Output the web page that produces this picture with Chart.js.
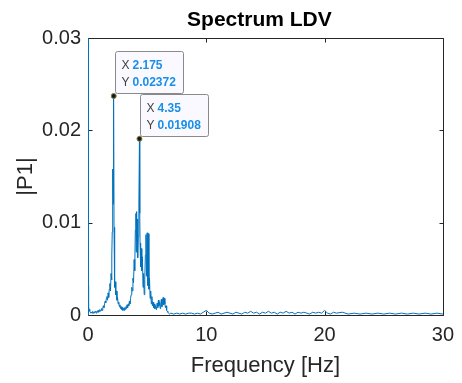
<!DOCTYPE html>
<html lang="en">
<head>
    <meta charset="UTF-8">
    <title>Spectrum LDV</title>
    <script src="https://cdn.jsdelivr.net/npm/chart.js"></script>
    <style>
        html, body { margin: 0; padding: 0; background: #fff; }
        #wrap { width: 462px; height: 383px; }
    </style>
</head>
<body>
<div id="wrap"><canvas id="spectrum"></canvas></div>
<script>
    // single-sided amplitude spectrum
    const freq = [
        0, 0.025, 0.05, 0.075, 0.1, 0.15, 0.2, 0.25, 0.3, 0.35,
        0.4, 0.45, 0.5, 0.55, 0.6, 0.65, 0.7, 0.75, 0.8, 0.85,
        0.9, 0.95, 1.0, 1.05, 1.1, 1.15, 1.2, 1.25, 1.3, 1.35,
        1.4, 1.45, 1.5, 1.55, 1.6, 1.65, 1.7, 1.75, 1.8, 1.85,
        1.9, 1.95, 2.0, 2.025, 2.05, 2.075, 2.1, 2.125, 2.15, 2.175,
        2.2, 2.225, 2.25, 2.275, 2.3, 2.35, 2.4, 2.45, 2.5, 2.55,
        2.6, 2.65, 2.7, 2.75, 2.8, 2.85, 2.9, 2.95, 3.0, 3.05,
        3.1, 3.15, 3.2, 3.25, 3.3, 3.35, 3.4, 3.45, 3.5, 3.55,
        3.6, 3.65, 3.7, 3.75, 3.8, 3.85, 3.9, 3.95, 4.0, 4.05,
        4.075, 4.1, 4.125, 4.15, 4.2, 4.25, 4.3, 4.35, 4.375, 4.4,
        4.45, 4.5, 4.55, 4.6, 4.65, 4.7, 4.75, 4.8, 4.85, 4.9,
        4.95, 5.0, 5.05, 5.1, 5.15, 5.2, 5.25, 5.3, 5.35, 5.4,
        5.45, 5.5, 5.55, 5.6, 5.65, 5.7, 5.75, 5.8, 5.85, 5.9,
        5.95, 6.0, 6.05, 6.1, 6.15, 6.2, 6.25, 6.3, 6.35, 6.4,
        6.45, 6.5, 6.55, 6.6, 6.65, 6.7, 6.75, 6.8, 6.9, 7.0,
        7.25, 7.5, 7.75, 8.0, 8.25, 8.5, 8.75, 9.0, 9.25, 9.5,
        9.75, 10, 10.25, 10.5, 10.75, 11, 11.25, 11.5, 11.75, 12,
        12.25, 12.5, 12.75, 13, 13.25, 13.5, 13.75, 14, 14.25, 14.5,
        14.75, 15, 15.25, 15.5, 15.75, 16, 16.25, 16.5, 16.75, 17,
        17.25, 17.5, 17.75, 18, 18.25, 18.5, 18.75, 19, 19.25, 19.5,
        19.75, 20, 20.25, 20.5, 20.75, 21, 21.5, 22, 22.5, 23,
        23.5, 24, 24.5, 25, 25.5, 26, 26.5, 27, 27.5, 28,
        28.5, 29, 29.5, 30
    ];
    const p1 = [
        0.0032, 0.0024, 0.0015, 0.0009, 0.0006, 0.0004, 0.0003, 0.0002, 0.0003, 0.0002,
        0.0004, 0.0002, 0.0003, 0.0002, 0.0004, 0.0003, 0.0002, 0.0004, 0.0003, 0.0005,
        0.0003, 0.0004, 0.0006, 0.0004, 0.0005, 0.0007, 0.0005, 0.0008, 0.0010, 0.0008,
        0.0012, 0.0015, 0.0013, 0.0018, 0.0020, 0.0016, 0.0024, 0.0019, 0.0028, 0.0034,
        0.0026, 0.0045, 0.0038, 0.0065, 0.0090, 0.0150, 0.0158, 0.0120, 0.0155, 0.02372,
        0.0095, 0.0040, 0.0052, 0.0030, 0.0036, 0.0022, 0.0026, 0.0016, 0.0019, 0.0012,
        0.0014, 0.0009, 0.0011, 0.0007, 0.0009, 0.0006, 0.0008, 0.0005, 0.0007, 0.0005,
        0.0008, 0.0006, 0.0009, 0.0007, 0.0011, 0.0008, 0.0012, 0.0010, 0.0015, 0.0012,
        0.0018, 0.0022, 0.0030, 0.0026, 0.0040, 0.0035, 0.0060, 0.0048, 0.0092, 0.0110,
        0.0068, 0.0112, 0.0080, 0.0104, 0.0062, 0.0085, 0.0120, 0.01908, 0.0110, 0.0078,
        0.0052, 0.0072, 0.0048, 0.0063, 0.0030, 0.0045, 0.0022, 0.0038, 0.0065, 0.0087,
        0.0042, 0.0089, 0.0032, 0.0088, 0.0028, 0.0040, 0.0018, 0.0026, 0.0012, 0.0020,
        0.0010, 0.0014, 0.0008, 0.0012, 0.0007, 0.0010, 0.0006, 0.0009, 0.0013, 0.0008,
        0.0016, 0.0010, 0.0014, 0.0007, 0.0012, 0.0017, 0.0009, 0.0015, 0.0019, 0.0011,
        0.0018, 0.0012, 0.0008, 0.0010, 0.0005, 0.0004, 0.0003, 0.0002, 0.0001, 0.0002,
        0.0001, 0.0002, 0.0001, 0.0002, 0.0001, 0.0002, 0.0002, 0.0001, 0.0002, 0.0001,
        0.0003, 0.0005, 0.0002, 0.0001, 0.0002, 0.0003, 0.0001, 0.0002, 0.0003, 0.0002,
        0.0001, 0.0003, 0.0002, 0.0001, 0.0003, 0.0002, 0.0004, 0.0002, 0.0003, 0.0001,
        0.0003, 0.0002, 0.0004, 0.0002, 0.0003, 0.0001, 0.0003, 0.0002, 0.0004, 0.0002,
        0.0003, 0.0001, 0.0003, 0.0002, 0.0003, 0.0002, 0.0001, 0.0003, 0.0002, 0.0003,
        0.0002, 0.0005, 0.0002, 0.0001, 0.0003, 0.0002, 0.0003, 0.0001, 0.0002, 0.0001,
        0.0002, 0.0001, 0.0002, 0.0001, 0.0002, 0.0001, 0.0002, 0.0001, 0.0002, 0.0001,
        0.0002, 0.0001, 0.0002, 0.0001
    ];
    const xTicks = [0, 10, 20, 30];
    const yTicks = [0, 0.01, 0.02, 0.03];
    // data tips
    const tipX = [2.175, 4.35];
    const tipY = [0.02372, 0.01908];

    const FONT = "'Liberation Sans', Arial, sans-serif";
    const AXIS = '#262626';
    const LINE = '#0072BD';

    // MATLAB style box, inward ticks, title and data tips
    const matlabAxes = {
        id: 'matlabAxes',
        afterDraw(chart) {
            const ctx = chart.ctx;
            const a = chart.chartArea;
            const xs = chart.scales.x, ys = chart.scales.y;
            const L = Math.round(a.left) + 0.5, R = Math.round(a.right) + 0.5;
            const T = Math.round(a.top) + 0.5, B = Math.round(a.bottom) + 0.5;
            ctx.save();
            ctx.lineWidth = 1;
            ctx.strokeStyle = AXIS;
            ctx.beginPath();
            ctx.moveTo(L, B); ctx.lineTo(R, B); ctx.lineTo(R, T); ctx.lineTo(L, T);
            xTicks.forEach(v => {
                const x = Math.round(xs.getPixelForValue(v)) + 0.5;
                ctx.moveTo(x, B); ctx.lineTo(x, B - 4);
                ctx.moveTo(x, T); ctx.lineTo(x, T + 4);
            });
            yTicks.forEach(v => {
                const y = Math.round(ys.getPixelForValue(v)) + 0.5;
                ctx.moveTo(L, y); ctx.lineTo(L + 4, y);
                ctx.moveTo(R, y); ctx.lineTo(R - 4, y);
            });
            ctx.stroke();
            ctx.strokeStyle = LINE;
            ctx.beginPath();
            ctx.moveTo(L, B); ctx.lineTo(L, T);
            ctx.stroke();

            // title
            ctx.fillStyle = '#000';
            ctx.font = 'bold 21px ' + FONT;
            ctx.textAlign = 'center';
            ctx.textBaseline = 'middle';
            ctx.fillText('Spectrum LDV', (a.left + a.right) / 2 - 6, 20);

            // data tips
            tipX.forEach((fx, i) => {
                const px = xs.getPixelForValue(fx);
                const py = ys.getPixelForValue(tipY[i]);
                const w = 68, h = 42;
                const bx = Math.round(px) + 1.5, by = Math.round(py) - 2.5 - h;
                ctx.fillStyle = '#f9f9ff';
                ctx.strokeStyle = '#8a8a8a';
                ctx.beginPath();
                ctx.roundRect(bx, by, w, h, 2);
                ctx.fill();
                ctx.stroke();
                ctx.textAlign = 'left';
                ctx.textBaseline = 'middle';
                ctx.font = '12px ' + FONT;
                ctx.fillStyle = '#404040';
                ctx.fillText('X', bx + 6, by + 14);
                ctx.fillText('Y', bx + 6, by + 31);
                ctx.font = 'bold 12px ' + FONT;
                ctx.fillStyle = '#1a8fe8';
                ctx.fillText(String(fx), bx + 17, by + 14);
                ctx.fillText(String(tipY[i]), bx + 17, by + 31);
                ctx.fillStyle = '#1a1a1a';
                ctx.strokeStyle = '#8a7f3a';
                ctx.beginPath();
                ctx.arc(px, py, 2.5, 0, Math.PI * 2);
                ctx.fill();
                ctx.stroke();
            });
            ctx.restore();
        }
    };

    const ctx = document.getElementById('spectrum').getContext('2d');
    new Chart(ctx, {
        type: 'line',
        data: {
            datasets: [{
                data: freq.map((f, i) => ({ x: f, y: p1[i] })),
                borderColor: LINE,
                borderWidth: 1,
                pointRadius: 0,
                tension: 0,
                fill: false
            }]
        },
        options: {
            responsive: true,
            maintainAspectRatio: false,
            animation: false,
            layout: { padding: { top: 38, right: 13, left: 0, bottom: 0 } },
            plugins: {
                legend: { display: false },
                tooltip: { enabled: false },
                title: { display: false }
            },
            scales: {
                x: {
                    type: 'linear',
                    min: 0,
                    max: 30,
                    afterFit: s => { s.height = 68; },
                    afterBuildTicks: s => { s.ticks = xTicks.map(v => ({ value: v })); },
                    grid: { display: false, drawTicks: false },
                    border: { display: false },
                    ticks: {
                        color: AXIS,
                        padding: 8,
                        maxRotation: 0,
                        font: { family: FONT, size: 20 },
                        callback: v => String(v)
                    },
                    title: {
                        display: true,
                        text: 'Frequency [Hz]',
                        color: AXIS,
                        font: { family: FONT, size: 22 },
                        padding: { top: 0, bottom: 4 }
                    }
                },
                y: {
                    min: 0,
                    max: 0.03,
                    afterFit: s => { s.width = 88; },
                    afterBuildTicks: s => { s.ticks = yTicks.map(v => ({ value: v })); },
                    grid: { display: false, drawTicks: false },
                    border: { display: false },
                    ticks: {
                        color: AXIS,
                        padding: 7,
                        font: { family: FONT, size: 20 },
                        callback: v => String(v)
                    },
                    title: {
                        display: true,
                        text: '|P1|',
                        color: AXIS,
                        font: { family: FONT, size: 22 },
                        padding: { top: 13, bottom: 0 }
                    }
                }
            }
        },
        plugins: [matlabAxes]
    });
</script>
</body>
</html>
